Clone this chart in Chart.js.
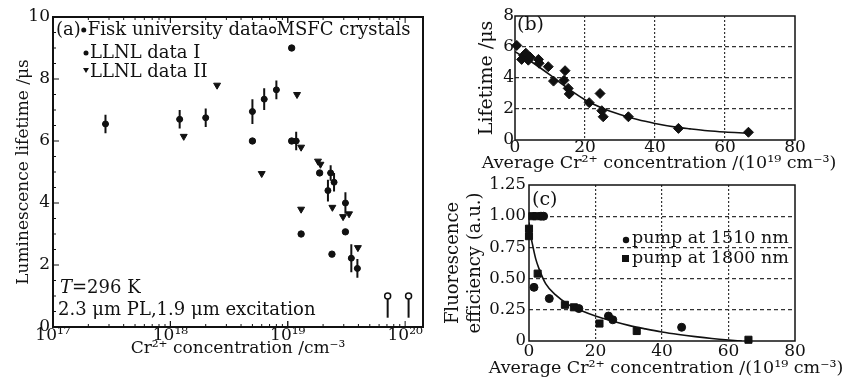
<!DOCTYPE html>
<html>
<head>
<meta charset="utf-8">
<script src="https://cdn.jsdelivr.net/npm/chart.js@4.4.0/dist/chart.umd.min.js"></script>
<style>
  body { margin: 0; background: #fff; width: 844px; height: 389px; overflow: hidden; position: relative; }
  canvas { position: absolute; }
</style>
</head>
<body>
<canvas id="chartA" width="430" height="389" style="left:0;top:0"></canvas>
<canvas id="chartB" width="414" height="176" style="left:430px;top:0"></canvas>
<canvas id="chartC" width="414" height="217" style="left:430px;top:172px"></canvas>
<script>
// ---- panel (a): lifetime vs Cr2+ concentration (log x) ----
const fiskX   = [2.8e17, 1.2e18, 2.0e18, 5.0e18, 6.3e18, 8.0e18, 1.18e19, 2.2e19, 2.32e19, 2.48e19, 3.1e19, 3.48e19, 3.92e19];
const fiskY   = [6.55, 6.7, 6.75, 6.95, 7.35, 7.65, 6.0, 4.4, 4.97, 4.67, 4.0, 2.22, 1.89];
const fiskErr = [0.3, 0.3, 0.3, 0.4, 0.35, 0.3, 0.3, 0.35, 0.25, 0.3, 0.35, 0.45, 0.3];
const llnl1X  = [5.0e18, 1.08e19, 1.08e19, 1.3e19, 1.87e19, 2.38e19, 3.1e19];
const llnl1Y  = [6.0, 9.0, 6.0, 3.0, 4.97, 2.35, 3.07];
const llnl2X  = [1.3e18, 2.5e18, 6.0e18, 1.2e19, 1.3e19, 1.3e19, 1.81e19, 1.9e19, 2.4e19, 2.96e19, 3.33e19, 3.96e19];
const llnl2Y  = [6.15, 7.8, 4.95, 7.5, 5.8, 3.8, 5.35, 5.25, 3.86, 3.56, 3.65, 2.56];
const msfcX   = [7.1e19, 1.07e20];
const msfcY   = [1.0, 1.0];
const msfcLow = [0.3, 0.3];
const decadeTicks = [1e17, 1e18, 1e19, 1e20];
const decadeLabels = ['10¹⁷', '10¹⁸', '10¹⁹', '10²⁰'];

// ---- panel (b): lifetime vs average concentration ----
const avgConcB  = [0.5, 1.9, 2.5, 3.1, 3.8, 4.3, 6.7, 6.9, 9.5, 11.0, 14.0, 14.3, 15.2, 15.5, 21.2, 24.3, 24.8, 25.2, 32.4, 46.7, 66.7];
const lifetimeB = [6.1, 5.2, 5.45, 5.6, 5.15, 5.35, 5.2, 4.95, 4.73, 3.8, 3.85, 4.47, 3.33, 2.97, 2.41, 3.0, 1.89, 1.5, 1.5, 0.75, 0.5];
const fitBX = [0, 5, 10, 15, 20, 25, 30, 35, 40, 46, 50, 55, 60, 66];
const fitBY = [5.7, 5.0, 4.2, 3.35, 2.6, 2.05, 1.65, 1.32, 1.07, 0.83, 0.72, 0.6, 0.52, 0.45];

// ---- panel (c): fluorescence efficiency ----
const conc1510 = [1.5, 3.6, 4.4, 6.1, 15.0, 23.9, 25.2, 45.9];
const eff1510  = [0.43, 1.0, 1.0, 0.34, 0.26, 0.2, 0.17, 0.11];
const conc1800 = [0, 0, 1.0, 2.2, 2.6, 10.8, 13.5, 21.2, 32.4, 66.0];
const eff1800  = [0.9, 0.84, 1.0, 1.0, 0.54, 0.29, 0.27, 0.14, 0.08, 0.01];
const fitCX = [0, 0.5, 1, 2, 3, 5, 8, 12, 16, 20, 25, 30, 35, 40, 45, 50, 55, 60, 64];
const fitCY = [0.95, 0.85, 0.78, 0.66, 0.58, 0.46, 0.37, 0.29, 0.24, 0.2, 0.16, 0.125, 0.097, 0.072, 0.052, 0.035, 0.02, 0.008, 0];

const avgTitle = 'Average Cr²⁺ concentration /(10¹⁹ cm⁻³)';
const serif = "'DejaVu Serif', serif";
const ink = '#111';
Chart.defaults.font.family = serif;
Chart.defaults.color = ink;
Chart.defaults.animation = false;

function pts(xs, ys) { return xs.map((x, i) => ({ x: x, y: ys[i] })); }
function fixW(w) { return s => { s.width = w; }; }
function fixH(h) { return s => { s.height = h; }; }
function noLegend() { return { legend: { display: false }, tooltip: { enabled: false } }; }

function drawBox(ctx, a, w) {
  ctx.save();
  ctx.strokeStyle = ink;
  ctx.lineWidth = w;
  ctx.strokeRect(a.left, a.top, a.right - a.left, a.bottom - a.top);
  ctx.restore();
}

// x title wider than the plot box, so it is drawn here (Chart.js would squeeze it)
function drawXTitle(ctx, a, y) {
  ctx.save();
  ctx.fillStyle = ink;
  ctx.font = '17.5px ' + serif;
  ctx.textAlign = 'center';
  ctx.textBaseline = 'middle';
  ctx.fillText(avgTitle, (a.left + a.right) / 2 + 4, y);
  ctx.restore();
}

// ---------------- chart (a) ----------------
const panelA = {
  id: 'panelA',
  beforeDatasetsDraw(chart) {
    const ctx = chart.ctx, xs = chart.scales.x, ys = chart.scales.y;
    ctx.save();
    ctx.strokeStyle = ink;
    ctx.lineWidth = 2;
    fiskX.forEach((x, i) => {
      const px = xs.getPixelForValue(x);
      ctx.beginPath();
      ctx.moveTo(px, ys.getPixelForValue(fiskY[i] - fiskErr[i]));
      ctx.lineTo(px, ys.getPixelForValue(fiskY[i] + fiskErr[i]));
      ctx.moveTo(px - 3, ys.getPixelForValue(fiskY[i]));
      ctx.lineTo(px + 3, ys.getPixelForValue(fiskY[i]));
      ctx.stroke();
    });
    msfcX.forEach((x, i) => {
      const px = xs.getPixelForValue(x);
      ctx.beginPath();
      ctx.moveTo(px, ys.getPixelForValue(msfcY[i]));
      ctx.lineTo(px, ys.getPixelForValue(msfcLow[i]));
      ctx.stroke();
    });
    ctx.restore();
  },
  afterDraw(chart) {
    const ctx = chart.ctx, a = chart.chartArea, xs = chart.scales.x, ys = chart.scales.y;
    drawBox(ctx, a, 2);
    ctx.save();
    ctx.strokeStyle = ink;
    ctx.lineWidth = 1;
    // inward ticks
    for (let v = 0; v <= 10; v += 0.5) {
      const py = ys.getPixelForValue(v), len = v % 2 === 0 ? 6 : 3;
      ctx.beginPath(); ctx.moveTo(a.left, py); ctx.lineTo(a.left + len, py); ctx.stroke();
    }
    for (let d = 17; d <= 19; d++) {
      for (let m = 1; m <= 10; m++) {
        const px = xs.getPixelForValue(m * Math.pow(10, d));
        if (px > a.right) continue;
        const len = (m === 1 || m === 10) ? 6 : 3;
        ctx.beginPath(); ctx.moveTo(px, a.bottom); ctx.lineTo(px, a.bottom - len); ctx.stroke();
        ctx.beginPath(); ctx.moveTo(px, a.top); ctx.lineTo(px, a.top + len); ctx.stroke();
      }
    }
    ctx.restore();

    // legend block
    ctx.save();
    ctx.fillStyle = ink;
    ctx.strokeStyle = ink;
    ctx.font = '18px ' + serif;
    ctx.textBaseline = 'middle';
    let x = a.left + 3, y = a.top + 13;
    ctx.fillText('(a)', x, y);
    x += ctx.measureText('(a)').width + 3;
    ctx.beginPath(); ctx.arc(x, y, 2.5, 0, Math.PI * 2); ctx.fill();
    x += 4;
    ctx.fillText('Fisk university data', x, y);
    x += ctx.measureText('Fisk university data').width + 4;
    ctx.lineWidth = 1.3;
    ctx.beginPath(); ctx.arc(x, y, 2.8, 0, Math.PI * 2); ctx.stroke();
    x += 4;
    ctx.fillText('MSFC crystals', x, y);

    const lx = a.left + 33;
    y = a.top + 36;
    ctx.beginPath(); ctx.arc(lx, y, 2.5, 0, Math.PI * 2); ctx.fill();
    ctx.fillText('LLNL data I', lx + 4, y);
    y = a.top + 55;
    ctx.beginPath(); ctx.moveTo(lx - 3, y - 4); ctx.lineTo(lx + 3, y - 4); ctx.lineTo(lx, y + 1); ctx.closePath(); ctx.fill();
    ctx.fillText('LLNL data II', lx + 4, y);

    // conditions text
    x = a.left + 7; y = a.bottom - 39;
    ctx.font = 'italic 18px ' + serif;
    ctx.fillText('T', x, y);
    x += ctx.measureText('T').width;
    ctx.font = '18px ' + serif;
    ctx.fillText('=296 K', x, y);
    ctx.fillText('2.3 μm PL,1.9 μm excitation', a.left + 5, a.bottom - 17);
    ctx.restore();
  }
};

new Chart(document.getElementById('chartA'), {
  type: 'scatter',
  data: {
    datasets: [
      { label: 'Fisk university data', data: pts(fiskX, fiskY), pointStyle: 'circle', pointRadius: 3,
        backgroundColor: ink, borderColor: ink, clip: false },
      { label: 'LLNL data I', data: pts(llnl1X, llnl1Y), pointStyle: 'circle', pointRadius: 3.2,
        backgroundColor: ink, borderColor: ink },
      { label: 'LLNL data II', data: pts(llnl2X, llnl2Y), pointStyle: 'triangle', rotation: 180, pointRadius: 4,
        backgroundColor: ink, borderColor: ink },
      { label: 'MSFC crystals', data: pts(msfcX, msfcY), pointStyle: 'circle', pointRadius: 3,
        backgroundColor: '#fff', borderColor: ink, borderWidth: 1.5 }
    ]
  },
  options: {
    responsive: false,
    layout: { padding: { top: 17, right: 7, left: 0, bottom: 0 } },
    plugins: noLegend(),
    scales: {
      x: {
        type: 'logarithmic', min: 1e17, max: 1.42e20,
        afterFit: fixH(62),
        afterBuildTicks: s => { s.ticks = decadeTicks.map(v => ({ value: v })); },
        grid: { display: false, drawTicks: false },
        border: { display: false },
        ticks: { padding: -2, font: { size: 17 }, maxRotation: 0, autoSkip: false,
                 callback: (v) => decadeLabels[decadeTicks.indexOf(v)] },
        title: { display: true, text: 'Cr²⁺ concentration /cm⁻³', font: { size: 17 }, padding: { bottom: 30 } }
      },
      y: {
        min: 0, max: 10,
        afterFit: fixW(53),
        grid: { display: false, drawTicks: false },
        border: { display: false },
        ticks: { stepSize: 2, padding: 3, font: { size: 17 } },
        title: { display: true, text: 'Luminescence lifetime /μs', font: { size: 17 }, padding: { top: 13 } }
      }
    }
  },
  plugins: [panelA]
});

// ---------------- chart (b) ----------------
function gridColor(lo, hi) {
  return c => (c.tick.value === lo || c.tick.value === hi) ? 'rgba(0,0,0,0)' : '#333';
}

const panelB = {
  id: 'panelB',
  afterDraw(chart) {
    const ctx = chart.ctx, a = chart.chartArea;
    drawBox(ctx, a, 1.5);
    drawXTitle(ctx, a, 163);
    ctx.save();
    ctx.fillStyle = ink;
    ctx.font = '19px ' + serif;
    ctx.textBaseline = 'middle';
    ctx.fillText('(b)', a.left + 2, a.top + 9);
    ctx.restore();
  }
};

new Chart(document.getElementById('chartB'), {
  type: 'scatter',
  data: {
    datasets: [
      { label: 'fit', data: pts(fitBX, fitBY), showLine: true, pointRadius: 0, borderColor: ink,
        borderWidth: 1.6, cubicInterpolationMode: 'monotone' },
      { label: 'lifetime', data: pts(avgConcB, lifetimeB), pointStyle: 'rectRot', pointRadius: 5,
        backgroundColor: ink, borderColor: ink, clip: false }
    ]
  },
  options: {
    responsive: false,
    layout: { padding: { top: 16, right: 49, left: 0, bottom: 0 } },
    plugins: noLegend(),
    scales: {
      x: {
        min: 0, max: 80,
        afterFit: fixH(36),
        grid: { drawTicks: false, color: gridColor(0, 80), lineWidth: 1.2 },
        border: { display: false, dash: [2, 2] },
        ticks: { stepSize: 20, padding: -3, font: { size: 17 } }
      },
      y: {
        min: 0, max: 8,
        afterFit: fixW(85),
        grid: { drawTicks: false, color: gridColor(0, 8), lineWidth: 1.2 },
        border: { display: false, dash: [4, 3] },
        ticks: { stepSize: 2, padding: 1, font: { size: 17 } },
        title: { display: true, text: 'Lifetime /μs', font: { size: 19 }, padding: { top: 46 } }
      }
    }
  },
  plugins: [panelB]
});

// ---------------- chart (c) ----------------
const panelC = {
  id: 'panelC',
  afterDraw(chart) {
    const ctx = chart.ctx, a = chart.chartArea;
    drawBox(ctx, a, 1.5);
    drawXTitle(ctx, a, 196);
    ctx.save();
    ctx.fillStyle = ink;
    ctx.textBaseline = 'middle';
    ctx.font = '19px ' + serif;
    ctx.fillText('(c)', a.left + 3, a.top + 15);
    ctx.font = '17.5px ' + serif;
    const lx = a.left + 97;
    ctx.beginPath(); ctx.arc(lx, a.top + 55, 3.2, 0, Math.PI * 2); ctx.fill();
    ctx.fillText('pump at 1510 nm', lx + 6, a.top + 53);
    ctx.fillRect(lx - 4, a.top + 70, 7, 7);
    ctx.fillText('pump at 1800 nm', lx + 6, a.top + 73);
    ctx.restore();
  }
};

new Chart(document.getElementById('chartC'), {
  type: 'scatter',
  data: {
    datasets: [
      { label: 'fit', data: pts(fitCX, fitCY), showLine: true, pointRadius: 0, borderColor: ink,
        borderWidth: 1.6, cubicInterpolationMode: 'monotone' },
      { label: 'pump at 1510 nm', data: pts(conc1510, eff1510), pointStyle: 'circle', pointRadius: 4,
        backgroundColor: ink, borderColor: ink, clip: false },
      { label: 'pump at 1800 nm', data: pts(conc1800, eff1800), pointStyle: 'rect', pointRadius: 5,
        backgroundColor: ink, borderColor: ink, clip: false }
    ]
  },
  options: {
    responsive: false,
    layout: { padding: { top: 13, right: 49, left: 0, bottom: 0 } },
    plugins: noLegend(),
    scales: {
      x: {
        min: 0, max: 80,
        afterFit: fixH(48),
        grid: { drawTicks: false, color: gridColor(0, 80), lineWidth: 1.2 },
        border: { display: false, dash: [2, 2] },
        ticks: { stepSize: 20, padding: 0, font: { size: 17 } }
      },
      y: {
        min: 0, max: 1.25,
        afterFit: fixW(99),
        grid: { drawTicks: false, color: gridColor(0, 1.25), lineWidth: 1.2 },
        border: { display: false, dash: [4, 3] },
        ticks: { stepSize: 0.25, padding: 3, font: { size: 16.5 },
                 callback: v => v === 0 ? '0' : v.toFixed(2) },
        title: { display: true, text: ['Fluorescence', 'efficiency (a.u.)'],
                 font: { size: 18, lineHeight: '22px' }, padding: { top: 12 } }
      }
    }
  },
  plugins: [panelC]
});
</script>
</body>
</html>
